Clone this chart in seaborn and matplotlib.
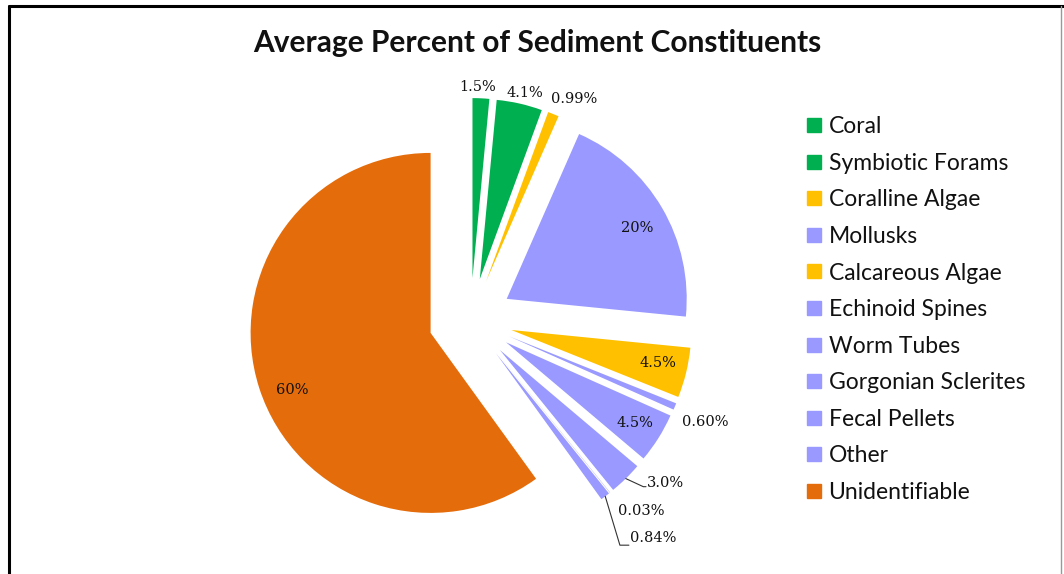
import numpy as np
import seaborn as sns
import matplotlib
matplotlib.use('Agg')
import matplotlib.pyplot as plt
from matplotlib.lines import Line2D

sns.set_theme(style='white')

# данные
constituents = ['Coral', 'Symbiotic Forams', 'Coralline Algae', 'Mollusks',
                'Calcareous Algae', 'Echinoid Spines', 'Worm Tubes',
                'Gorgonian Sclerites', 'Fecal Pellets', 'Other', 'Unidentifiable']
percent = [1.5, 4.1, 0.99, 20, 4.5, 0.60, 4.5, 3.0, 0.03, 0.84, 60]
pct_labels = ['1.5%', '4.1%', '0.99%', '20%', '4.5%', '0.60%', '4.5%',
              '3.0%', '0.03%', '0.84%', '60%']

green, yellow, lav, orange = '#00B050', '#FFC000', '#9999FF', '#E46C0A'
colors = [green, green, yellow, lav, yellow, lav, lav, lav, lav, lav, orange]

# положение подписей (в радиусах от центра пирога)
label_xy = [(0.04, 1.294), (0.302, 1.262), (0.574, 1.228), (0.924, 0.511),
            (1.041, -0.239), (1.302, -0.567), (0.913, -0.572),
            (0.98, -0.906), (0.819, -1.061), (0.885, -1.211), (-0.992, -0.389)]
label_ha = ['center'] * 7 + ['left', 'left', 'left', 'center']

W, H = 1064, 574
R = 180.0
cx, cy = 470.5, 320.0

fig = plt.figure(figsize=(W / 100, H / 100), dpi=100)
ax = fig.add_axes([0, 0, 1, 1])

explode = [0.233] * len(percent)
wedges, _ = ax.pie(percent, colors=colors, explode=explode, startangle=90,
                   counterclock=False, radius=1, center=(0, 0), frame=True,
                   wedgeprops=dict(linewidth=0))
ax.set_xlim(-cx / R, (W - cx) / R)
ax.set_ylim(-(H - cy) / R, cy / R)
ax.axis('off')

for txt, (x, y), ha in zip(pct_labels, label_xy, label_ha):
    ax.text(x, y, txt, ha=ha, va='center', fontsize=10.5,
            family='DejaVu Serif', color='#111111')

# выноски
def outer_point(w):
    ang = np.deg2rad((w.theta1 + w.theta2) / 2)
    return w.center[0] + w.r * np.cos(ang), w.center[1] + w.r * np.sin(ang)

x0, y0 = outer_point(wedges[7])
tx, ty = label_xy[7]
ax.plot([x0, tx - 0.02, tx - 0.005], [y0, ty - 0.02, ty - 0.02],
        color='#333333', lw=0.8)
x0, y0 = outer_point(wedges[9])
tx, ty = label_xy[9]
ax.plot([x0, tx - 0.055, tx - 0.005], [y0, ty - 0.04, ty - 0.04],
        color='#333333', lw=0.8)

fig.text(537 / W, 1 - 43 / H, 'Average Percent of Sediment Constituents',
         ha='center', va='center', fontsize=21.5, fontweight='bold',
         family='Lato', color='#111111')

handles = [Line2D([0], [0], marker='s', ls='', markersize=10,
                  markerfacecolor=c, markeredgecolor=c) for c in colors]
leg = fig.legend(handles, constituents, loc='upper left',
                 bbox_to_anchor=(793 / W, 1 - 107 / H), frameon=False,
                 prop=dict(family='Lato', size=16.5), labelspacing=0.68,
                 handletextpad=0.15, handlelength=1.0, borderaxespad=0)
for t in leg.get_texts():
    t.set_color('#111111')

# рамка
fig.add_artist(Line2D([9 / W, 9 / W], [0, 1 - 6 / H], color='black', lw=2.2))
fig.add_artist(Line2D([9 / W, 1], [1 - 6 / H, 1 - 6 / H], color='black', lw=2.2))
fig.add_artist(Line2D([1061 / W, 1061 / W], [0, 1 - 6 / H], color='#999999', lw=1))

fig.savefig('out.png', dpi=100)
